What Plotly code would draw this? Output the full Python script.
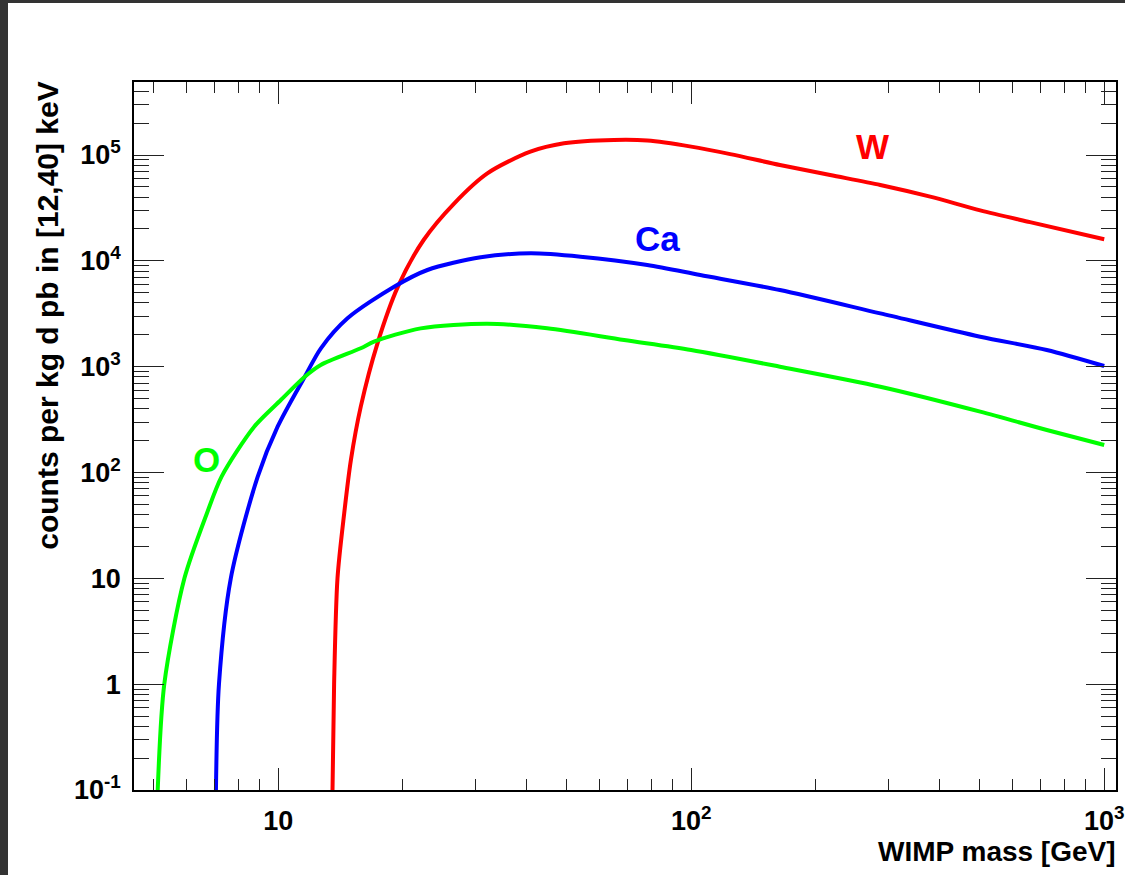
import numpy as np
import plotly.graph_objects as go

# ---------------- data ----------------
o_mass = [5.11, 5.30, 5.93, 6.72, 7.3, 8.75, 10.15, 11.6, 12.68, 15.85,
          17.06, 22.13, 32.1, 44.8, 68.8, 100, 164, 287, 501, 726, 1000]
o_counts = [0.1, 1, 10, 41, 92, 271, 484, 804, 1038, 1493,
            1722, 2302, 2550, 2302, 1786, 1438, 1000, 647, 376, 252, 182]

ca_mass = [7.07, 7.19, 7.68, 8.92, 9.97, 11.6, 12.69, 14.72, 19.09, 22.98, 30.93,
           40.86, 53.97, 78.3, 105.2, 164, 287, 501, 726, 1000]
ca_counts = [0.1, 1, 10, 91, 271, 804, 1492, 2865, 5697, 8195, 10803,
             11785, 10945, 9138, 7350, 5300, 3190, 1919, 1438, 1014]

w_mass = [13.54, 13.66, 13.92, 14.45, 15.0, 15.85, 17.4, 19.5, 22.5, 26.7, 32.1,
          40.8, 49.2, 65, 78.3, 100, 124.3, 164, 217, 287, 379, 501, 661, 1000]
w_counts = [0.1, 1, 10, 41, 131, 419, 1663, 5700, 15740, 35000, 67100,
            107500, 129000, 138700, 137000, 120000, 102000, 80500, 64700, 52100,
            40400, 30000, 23200, 15980]

series_names = ["W", "Ca", "O"]
series_colors = ["#ff0000", "#0000ff", "#00ff00"]
label_mass = [275, 83.1, 6.72]
label_counts = [1.217e5, 1.63e4, 134]

x_major = [10, 100, 1000]
x_major_text = ["10", "10<sup>2</sup>", "10<sup>3</sup>"]
y_major = [0.1, 1, 10, 100, 1000, 1e4, 1e5]
y_major_text = ["10<sup>-1</sup>", "1", "10", "10<sup>2</sup>", "10<sup>3</sup>",
                "10<sup>4</sup>", "10<sup>5</sup>"]

x_title = "WIMP mass [GeV]"
y_title = "counts per kg d pb in [12,40] keV"

# ---------------- figure ----------------
FONT = "Liberation Sans, Arial, Helvetica, sans-serif"
BODY = 8                       # default body margin (left/top/bottom kept)
W, H = 1125 - BODY, 875 - 2 * BODY      # figure spans page x 8..1125, y 8..867
ML = 134 - BODY
MR = 1
MT = 82 - BODY
MB = H - (790 - BODY)
pw = W - ML - MR
ph = H - MT - MB
DEC_X = 416.4
x_lo = 0.651
x_hi = x_lo + pw / DEC_X

x_minor = [m * 10 ** k for k in range(0, 3) for m in range(2, 10)]
y_minor = [m * 10.0 ** k for k in range(-1, 6) for m in range(2, 10)]

fig = go.Figure()
for name, color, xs, ys in zip(series_names, series_colors,
                               [w_mass, ca_mass, o_mass],
                               [w_counts, ca_counts, o_counts]):
    fig.add_trace(go.Scatter(x=xs, y=ys, mode="lines", name=name,
                             line=dict(color=color, width=4, shape="spline", smoothing=0.8),
                             showlegend=False, hoverinfo="skip"))

for name, color, lx, ly in zip(series_names, series_colors, label_mass, label_counts):
    fig.add_annotation(x=np.log10(lx), y=np.log10(ly), xref="x", yref="y",
                       text=name, showarrow=False,
                       font=dict(family=FONT, size=35, color=color, weight="bold"),
                       xanchor="center", yanchor="middle")

axis_common = dict(
    type="log", showgrid=False, zeroline=False,
    showline=True, linecolor="black", linewidth=1.5, mirror="allticks",
    ticks="inside", tickcolor="#222222", tickwidth=1.2,
    tickmode="array", ticklabeloverflow="allow",
    tickfont=dict(family=FONT, size=27, color="black", weight="bold"),
)

fig.update_xaxes(**axis_common, range=[x_lo, x_hi],
                 tickvals=x_major, ticktext=x_major_text, ticklen=22,
                 minor=dict(ticks="inside", ticklen=11, tickcolor="#222222",
                            tickwidth=1.2, tickvals=x_minor, showgrid=False),
                 ticklabelstandoff=6)
fig.update_yaxes(**axis_common, range=[-1, 5.690],
                 tickvals=y_major, ticktext=y_major_text, ticklen=30,
                 minor=dict(ticks="inside", ticklen=15, tickcolor="#222222",
                            tickwidth=1.2, tickvals=y_minor, showgrid=False),
                 ticklabelstandoff=6)

# axis titles (positions in page pixels converted to paper units)
fig.add_annotation(x=(1126 - BODY - ML) / pw, y=(H - MB - (851 - BODY)) / ph,
                   xref="paper", yref="paper",
                   text=x_title, showarrow=False, xanchor="right", yanchor="middle",
                   font=dict(family=FONT, size=28, color="black", weight="bold"))
fig.add_annotation(x=(46 - BODY - ML) / pw, y=(H - MB - (80 - BODY)) / ph,
                   xref="paper", yref="paper",
                   text=y_title, showarrow=False, textangle=-90,
                   xanchor="center", yanchor="top",
                   font=dict(family=FONT, size=30, color="black", weight="bold"))

fig.update_layout(width=W, height=H,
                  margin=dict(l=ML, r=MR, t=MT, b=MB, pad=0),
                  paper_bgcolor="white", plot_bgcolor="white",
                  showlegend=False)

fig.write_html(
    "out.html",
    config={"displayModeBar": False},
    post_script=(
        "document.body.style.marginRight='0px';"
        "document.documentElement.style.background="
        "'linear-gradient(#333,#333) 0 0/100% 3px no-repeat,"
        " linear-gradient(#333,#333) 0 0/8px 100% no-repeat, #ffffff';"
    ),
)
